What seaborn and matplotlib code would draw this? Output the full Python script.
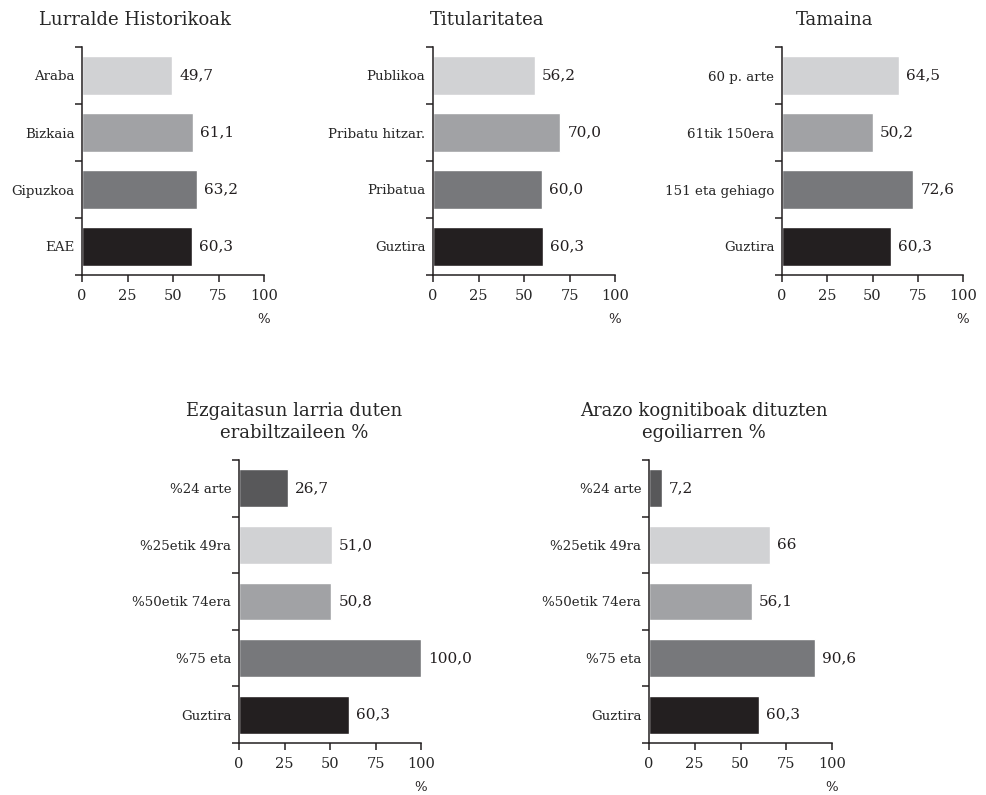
import seaborn as sns
import pandas as pd
from matplotlib import pyplot as plt

# Data

lurralde_cats = ['Araba', 'Bizkaia', 'Gipuzkoa', 'EAE']
lurralde_vals = [49.7, 61.1, 63.2, 60.3]

titular_cats = ['Publikoa', 'Pribatu hitzar.', 'Pribatua', 'Guztira']
titular_vals = [56.2, 70.0, 60.0, 60.3]

tamaina_cats = ['60 p. arte', '61tik 150era', '151 eta gehiago', 'Guztira']
tamaina_vals = [64.5, 50.2, 72.6, 60.3]

maila_cats = ['%24 arte', '%25etik 49ra', '%50etik 74era', '%75 eta', 'Guztira']
ezgaitasun_vals = [26.7, 51.0, 50.8, 100.0, 60.3]
ezgaitasun_labels = ['26,7', '51,0', '50,8', '100,0', '60,3']
kognitibo_vals = [7.2, 66, 56.1, 90.6, 60.3]
kognitibo_labels = ['7,2', '66', '56,1', '90,6', '60,3']

x_ticks = [0, 25, 50, 75, 100]

colors4 = ['#d1d2d4', '#a1a2a5', '#77787b', '#231f20']
colors5 = ['#58585a', '#d1d2d4', '#a1a2a5', '#77787b', '#231f20']

sns.set_style('ticks')
plt.rcParams['font.family'] = ['DejaVu Serif']
plt.rcParams['axes.edgecolor'] = '#231f20'
plt.rcParams['axes.linewidth'] = 1.1

W, H = 986, 795
fig = plt.figure(figsize=(W / 100, H / 100), dpi=100)


def fmt(v):
    return f'{v:.1f}'.replace('.', ',')


def panel(left, right, top, bottom, cats, vals, colors, labels=None):
    ax = fig.add_axes([left / W, 1 - bottom / H, (right - left) / W, (bottom - top) / H])
    df = pd.DataFrame({'cat': cats, 'val': vals})
    sns.barplot(data=df, x='val', y='cat', hue='cat', palette=colors, legend=False,
                orient='h', width=0.67, saturation=1, ax=ax)
    n = len(cats)
    ax.set_xlim(0, 100)
    ax.set_ylim(n - 0.5, -0.5)
    ax.set_xticks(x_ticks)
    ax.set_xticklabels([str(t) for t in x_ticks], fontsize=10.5)
    ax.set_yticks(range(n))
    ax.set_yticklabels(cats, fontsize=9.6)
    ax.set_yticks([i - 0.5 for i in range(n + 1)], minor=True)
    ax.tick_params(axis='y', which='major', length=0, pad=5.5)
    ax.tick_params(axis='y', which='minor', length=5, width=1.1, color='#231f20')
    ax.tick_params(axis='x', length=5, width=1.1, pad=5, color='#231f20')
    ax.set_xlabel('')
    ax.set_ylabel('')
    sns.despine(ax=ax)
    if labels is None:
        labels = [fmt(v) for v in vals]
    for i, (v, lab) in enumerate(zip(vals, labels)):
        ax.annotate(lab, xy=(v, i), xytext=(5, 0), textcoords='offset points',
                    ha='left', va='center', fontsize=11, color='#231f20',
                    annotation_clip=False)
    # "%" under the right end of the x axis
    ax.annotate('%', xy=(100, 0), xycoords=('data', 'axes fraction'),
                xytext=(0, -32), textcoords='offset points', ha='center', va='center',
                fontsize=9.5, color='#231f20', annotation_clip=False)
    return ax


panel(82, 264, 47, 275, lurralde_cats, lurralde_vals, colors4)
panel(433, 615, 47, 275, titular_cats, titular_vals, colors4)
panel(782, 963, 47, 275, tamaina_cats, tamaina_vals, colors4)
panel(239, 421, 460, 743, maila_cats, ezgaitasun_vals, colors5, ezgaitasun_labels)
panel(649, 832, 460, 743, maila_cats, kognitibo_vals, colors5, kognitibo_labels)

fig.text(135 / W, 1 - 20 / H, 'Lurralde Historikoak', ha='center', va='center', fontsize=13)
fig.text(487 / W, 1 - 20 / H, 'Titularitatea', ha='center', va='center', fontsize=13)
fig.text(835 / W, 1 - 20 / H, 'Tamaina', ha='center', va='center', fontsize=13)
fig.text(294 / W, 1 - 422 / H, 'Ezgaitasun larria duten\nerabiltzaileen %',
         ha='center', va='center', fontsize=13, linespacing=1.25)
fig.text(704 / W, 1 - 422 / H, 'Arazo kognitiboak dituzten\negoiliarren %',
         ha='center', va='center', fontsize=13, linespacing=1.25)

fig.savefig('out.png', dpi=100, facecolor='white')
